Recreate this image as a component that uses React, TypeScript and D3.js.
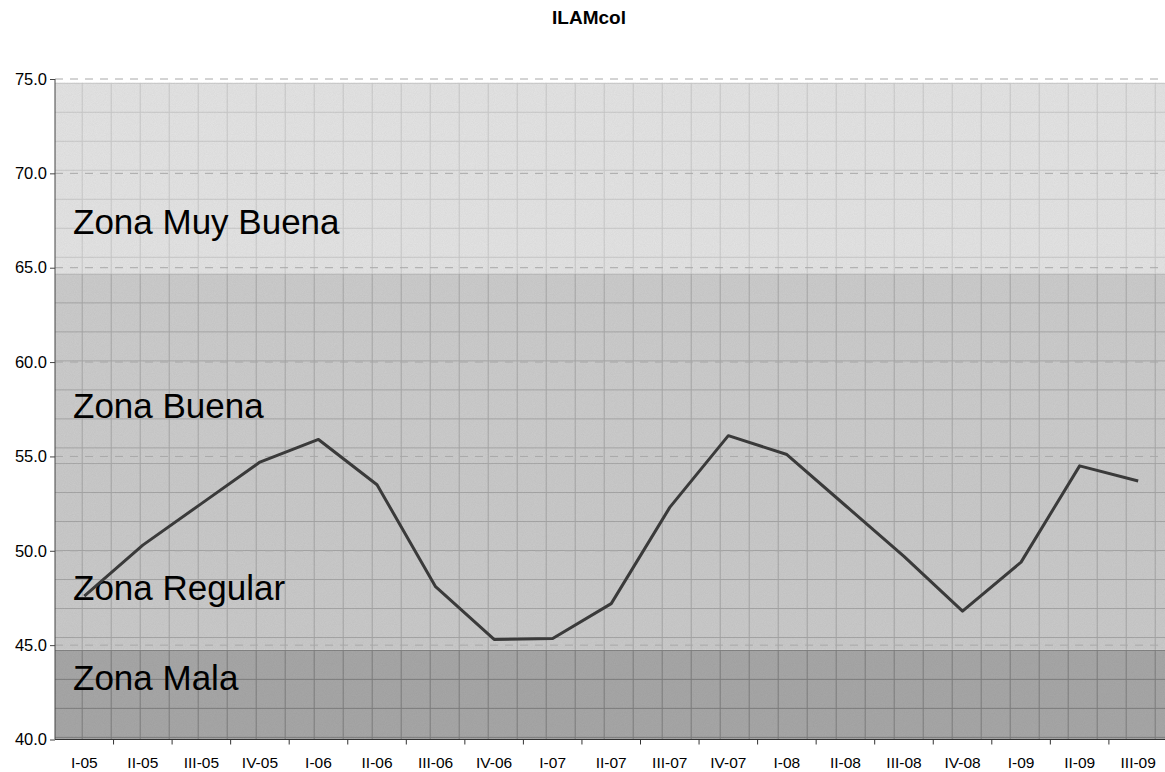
import { useEffect, useRef } from 'react';
import * as d3 from 'd3';

const categories = [
  'I-05', 'II-05', 'III-05', 'IV-05', 'I-06', 'II-06', 'III-06', 'IV-06',
  'I-07', 'II-07', 'III-07', 'IV-07', 'I-08', 'II-08', 'III-08', 'IV-08',
  'I-09', 'II-09', 'III-09',
];

const ilamValues = [
  47.6, 50.3, 52.5, 54.7, 55.9, 53.5, 48.1, 45.3, 45.35, 47.2,
  52.3, 56.1, 55.1, 52.4, 49.7, 46.8, 49.4, 54.5, 53.7,
];

const yTicks = [40, 45, 50, 55, 60, 65, 70, 75];

// zone bands: [bottom, top]
const zoneNames = ['Zona Mala', 'Zona Regular', 'Zona Buena', 'Zona Muy Buena'];
const zoneRanges: [number, number][] = [
  [40, 44.75],
  [44.75, 54.65],
  [54.65, 64.7],
  [64.7, 74.8],
];
const zoneLabelValues = [42.62, 47.39, 57.04, 66.79];

const zoneFill = ['#a8a8a8', '#cbcbcb', '#cdcdcd', '#e5e5e5'];
const zoneGrid = ['#7e7e7e', '#a6a6a6', '#a8a8a8', '#cacaca'];

export default function App() {
  const svgRef = useRef<SVGSVGElement>(null);

  useEffect(() => {
    if (!svgRef.current) return;

    const width = 1165;
    const height = 772;
    const margin = { top: 79, right: 0, bottom: 32.5, left: 55 };
    const bandStep = 58.55;
    const font = 'Arial, "Liberation Sans", sans-serif';

    const svg = d3.select(svgRef.current);
    svg.selectAll('*').remove();

    const x = d3
      .scaleBand()
      .domain(categories)
      .range([margin.left, margin.left + bandStep * categories.length]);

    const y = d3
      .scaleLinear()
      .domain([40, 75])
      .range([height - margin.bottom, margin.top]);

    const defs = svg.append('defs');

    // texture tiles, one per zone
    zoneRanges.forEach((r, i) => {
      const p = defs
        .append('pattern')
        .attr('id', `tile${i}`)
        .attr('patternUnits', 'userSpaceOnUse')
        .attr('x', 52.7)
        .attr('y', y(r[1]))
        .attr('width', 29)
        .attr('height', 29);
      p.append('rect').attr('width', 29).attr('height', 29).attr('fill', zoneFill[i]);
      p.append('rect').attr('width', 29).attr('height', 1).attr('fill', zoneGrid[i]);
      p.append('rect').attr('width', 1).attr('height', 29).attr('fill', zoneGrid[i]);
    });

    const noise = defs
      .append('filter')
      .attr('id', 'noise')
      .attr('x', 0)
      .attr('y', 0)
      .attr('width', 1)
      .attr('height', 1);
    noise
      .append('feTurbulence')
      .attr('type', 'fractalNoise')
      .attr('baseFrequency', 1.1)
      .attr('numOctaves', 1)
      .attr('result', 't');
    noise
      .append('feColorMatrix')
      .attr('type', 'matrix')
      .attr('values', '0 0 0 0 0  0 0 0 0 0  0 0 0 0 0  0 0 0 0.06 0');

    svg.append('rect').attr('width', width).attr('height', height).attr('fill', '#ffffff');

    const plotRight = width;

    // zone bands
    svg
      .append('g')
      .selectAll('rect')
      .data(zoneRanges)
      .enter()
      .append('rect')
      .attr('x', margin.left)
      .attr('y', (d) => y(d[1]))
      .attr('width', plotRight - margin.left)
      .attr('height', (d) => y(d[0]) - y(d[1]))
      .attr('fill', (_d, i) => `url(#tile${i})`);

    svg
      .append('rect')
      .attr('x', margin.left)
      .attr('y', y(74.8))
      .attr('width', plotRight - margin.left)
      .attr('height', y(40) - y(74.8))
      .attr('filter', 'url(#noise)')
      .attr('fill', '#000');

    // major dashed gridlines
    svg
      .append('g')
      .selectAll('line')
      .data(yTicks.filter((t) => t > 40))
      .enter()
      .append('line')
      .attr('x1', margin.left)
      .attr('x2', plotRight)
      .attr('y1', (d) => y(d))
      .attr('y2', (d) => y(d))
      .attr('stroke', '#a8a8a8')
      .attr('stroke-width', 1)
      .attr('stroke-dasharray', '8,7');

    // zone labels
    svg
      .append('g')
      .selectAll('text')
      .data(zoneNames)
      .enter()
      .append('text')
      .attr('x', 73)
      .attr('y', (_d, i) => y(zoneLabelValues[i]))
      .attr('font-family', font)
      .attr('font-size', 35)
      .attr('fill', '#000')
      .text((d) => d);

    // y axis
    const yAxis = svg
      .append('g')
      .attr('transform', `translate(${margin.left}, 0)`)
      .call(
        d3
          .axisLeft(y)
          .tickValues(yTicks)
          .tickSize(5)
          .tickPadding(3)
          .tickFormat((d) => (d as number).toFixed(1))
      );
    yAxis.select('.domain').attr('stroke', '#444').attr('d', `M0,${y(75)}V${y(40)}`);
    yAxis.selectAll('.tick line').attr('stroke', '#444');
    yAxis
      .selectAll('.tick text')
      .attr('font-family', font)
      .attr('font-size', 16.5)
      .attr('fill', '#000');

    // x axis
    const xAxis = svg
      .append('g')
      .attr('transform', `translate(0, ${y(40)})`)
      .call(d3.axisBottom(x).tickSize(0).tickPadding(17));
    xAxis.select('.domain').attr('stroke', '#333').attr('d', `M${margin.left},0H${plotRight}`);
    xAxis
      .selectAll('.tick text')
      .attr('font-family', font)
      .attr('font-size', 15.5)
      .attr('fill', '#000');

    // boundary ticks between categories
    xAxis
      .append('g')
      .selectAll('line')
      .data(categories)
      .enter()
      .append('line')
      .attr('x1', (d) => x(d)! + x.bandwidth())
      .attr('x2', (d) => x(d)! + x.bandwidth())
      .attr('y1', 0)
      .attr('y2', 5)
      .attr('stroke', '#333');

    // series line
    const line = d3
      .line<number>()
      .x((_d, i) => x(categories[i])! + x.bandwidth() / 2)
      .y((d) => y(d));

    svg
      .append('path')
      .datum(ilamValues)
      .attr('d', line)
      .attr('fill', 'none')
      .attr('stroke', '#3a3a3a')
      .attr('stroke-width', 3)
      .attr('stroke-linejoin', 'round');

    // title
    svg
      .append('text')
      .attr('x', 589)
      .attr('y', 24)
      .attr('text-anchor', 'middle')
      .attr('font-family', font)
      .attr('font-weight', 'bold')
      .attr('font-size', 19)
      .text('ILAMcol');
  }, []);

  return (
    <svg
      ref={svgRef}
      width={1165}
      height={772}
      style={{ position: 'absolute', left: 0, top: 0 }}
    ></svg>
  );
}
